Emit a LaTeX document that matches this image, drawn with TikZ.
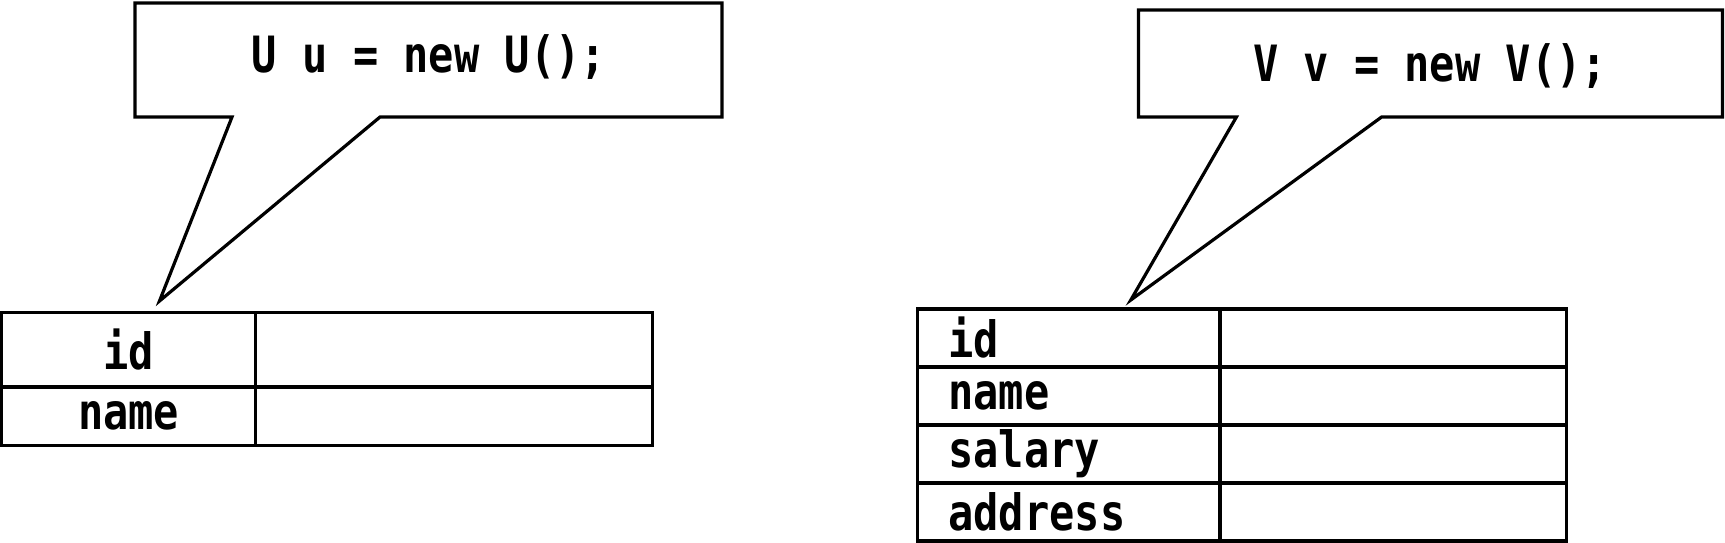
\documentclass[tikz,border=0pt]{standalone}
\usepackage{fontspec}
\usetikzlibrary{positioning}
\newfontfamily\codefont[FakeStretch=0.84]{DejaVu Sans Mono}

\tikzset{
  code/.style={font=\codefont\bfseries\fontsize{25}{29}\selectfont},
  outline/.style={draw=black, line width=1.6pt},
  cell/.style={outline, code, outer sep=0pt, inner sep=0pt},
  keycell/.style={cell, minimum height=#1},
  fieldcell/.style={cell, minimum height=29pt, text width=120.3pt,
                    inner xsep=15.5pt, align=left},
  valcell/.style={cell, minimum width=#1, minimum height=29pt},
}

\begin{document}
\begin{tikzpicture}[x=0.5pt, y=-0.5pt]
  \useasboundingbox (0,0) rectangle (1725,542);

  % object u
  \coordinate (unw) at (135,3);
  \coordinate (use) at (722,117);
  \coordinate (ubl) at (232,117);
  \coordinate (ubr) at (380,117);
  \coordinate (utip) at (159.5,301);
  \draw[outline] (unw) -| (use) -- (ubr) -- (utip) -- (ubl)
    -- (unw |- use) -- cycle;
  \node[code] (ucode) at (429,57) {U u = new U();};

  \node[keycell=37.3pt, minimum width=127pt, anchor=north west]
    (uid) at (1.6,312.4) {id};
  \node[valcell=198.5pt, minimum height=37.3pt, right=0pt of uid] (uidv) {};
  \node[keycell=29.25pt, minimum width=127pt, below=0pt of uid] (uname) {name};
  \node[valcell=198.5pt, minimum height=29.25pt, right=0pt of uname] (unamev) {};

  % object v
  \coordinate (vnw) at (1138.5,10);
  \coordinate (vse) at (1722.5,117);
  \coordinate (vbl) at (1236.4,117);
  \coordinate (vbr) at (1381.6,117);
  \coordinate (vtip) at (1130.8,300);
  \draw[outline] (vnw) -| (vse) -- (vbr) -- (vtip) -- (vbl)
    -- (vnw |- vse) -- cycle;
  \node[code] (vcode) at (1430,66) {V v = new V();};

  \foreach \fld [count=\i from 0] in {id,name,salary,address} {
    \node[fieldcell, anchor=north west] (v\fld) at (917.4,309+58*\i) {\fld};
    \node[valcell=173.2pt, right=0pt of v\fld] (v\fld v) {};
  }
\end{tikzpicture}
\end{document}
